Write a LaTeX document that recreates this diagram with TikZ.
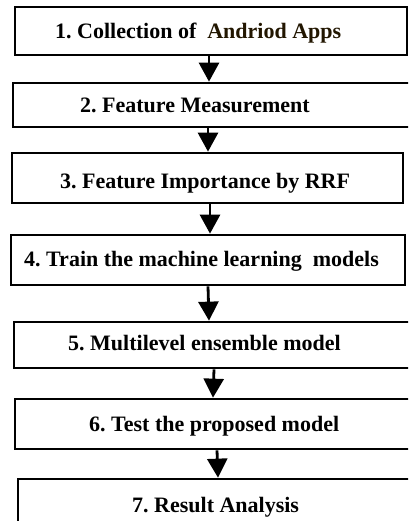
\documentclass[tikz,border=0pt]{standalone}
\usepackage{fontspec}
\setmainfont{Liberation Serif}
\usetikzlibrary{arrows.meta}
\definecolor{darkbrown}{RGB}{34,22,0}
\frenchspacing
\tikzset{
  box/.style={draw=black, line width=2.7pt, rectangle, inner sep=0pt, fill=none},
  lbl/.style={inner sep=0pt, anchor=base west, font=\fontsize{22}{26}\selectfont\bfseries},
  arr/.style={line width=2.8pt, -{Triangle[width=20pt,length=19pt]}}
}
\begin{document}
\begin{tikzpicture}[x=1pt,y=-1pt]
\useasboundingbox (0,0) rectangle (408,521);
\clip (0,0) rectangle (408,521);
\fill[white] (0,0) rectangle (408,521);
% boxes
\node[box, minimum width=392pt, minimum height=48pt] (b1) at (211,31) {};
\node[box, minimum width=402pt, minimum height=44pt] (b2) at (214,105) {};
\node[box, minimum width=391pt, minimum height=50pt] (b3) at (207.5,178) {};
\node[box, minimum width=394pt, minimum height=50pt] (b4) at (208,260) {};
\node[box, minimum width=401pt, minimum height=46pt] (b5) at (214.5,345) {};
\node[box, minimum width=400pt, minimum height=50pt] (b6) at (215,424) {};
\node[box, minimum width=397pt, minimum height=61pt] (b7) at (216.5,509.5) {};
% labels
\node[lbl] (t1) at (55,39) {1. Collection of \ \textcolor{darkbrown}{Andriod Apps}};
\node[lbl] (t2) at (80,113) {2. Feature Measurement};
\node[lbl] (t3) at (60,189) {3. Feature Importance by RRF};
\node[lbl] (t4) at (24,266) {4. Train the machine learning \ models};
\node[lbl] (t5) at (68,350) {5. Multilevel ensemble model};
\node[lbl] (t6) at (89,431) {6. Test the proposed model};
\node[lbl] (t7) at (132,512) {7. Result Analysis};
% arrows
\draw[arr] ([xshift=-2pt]b1.south) -- ([xshift=-5pt]b2.north);
\draw[arr] ([xshift=-6pt]b2.south) -- ([xshift=0.5pt]b3.north);
\draw[arr] ([xshift=2.5pt]b3.south) -- ([xshift=2pt]b4.north);
\draw[arr] ([xshift=0pt]b4.south) -- ([xshift=-5.5pt]b5.north);
\draw[arr] ([xshift=-0.5pt]b5.south) -- ([xshift=-2pt]b6.north);
\draw[arr] ([xshift=2pt]b6.south) -- ([xshift=1.5pt]b7.north);
\end{tikzpicture}
\end{document}
